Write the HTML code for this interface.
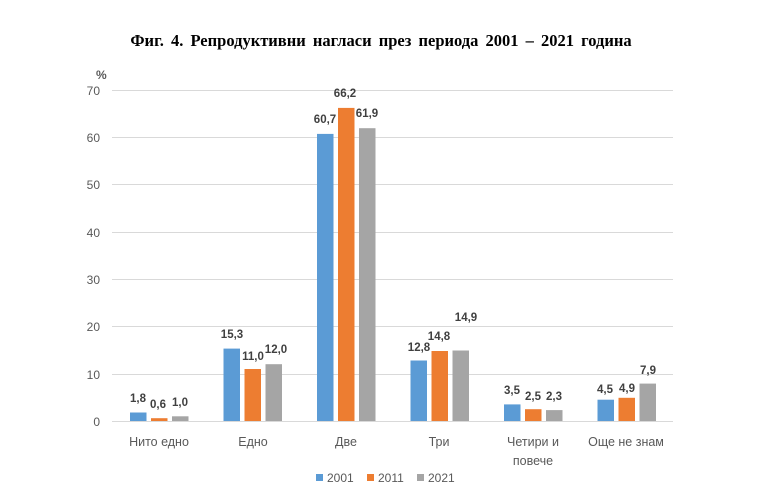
<!DOCTYPE html>
<html><head><meta charset="utf-8"><style>
body{margin:0;background:#fff}
</style></head><body>
<svg width="768" height="498" xmlns="http://www.w3.org/2000/svg" font-family="Liberation Sans, sans-serif">
<rect width="768" height="498" fill="#fff"/>
<text x="381" y="46" text-anchor="middle" font-family="Liberation Serif, serif" font-weight="bold" font-size="16.5" fill="#000" word-spacing="3">Фиг. 4. Репродуктивни нагласи през периода  2001 – 2021 година</text>
<g stroke="#d9d9d9" stroke-width="1">
<line x1="112" x2="673" y1="90.5" y2="90.5"/><line x1="112" x2="673" y1="137.5" y2="137.5"/>
<line x1="112" x2="673" y1="184.5" y2="184.5"/><line x1="112" x2="673" y1="232.5" y2="232.5"/>
<line x1="112" x2="673" y1="279.5" y2="279.5"/><line x1="112" x2="673" y1="326.5" y2="326.5"/>
<line x1="112" x2="673" y1="374.5" y2="374.5"/><line x1="112" x2="673" y1="421.5" y2="421.5"/>
</g>
<g font-size="12" fill="#595959" text-anchor="end">
<text x="100" y="95">70</text><text x="100" y="142">60</text><text x="100" y="189">50</text>
<text x="100" y="237">40</text><text x="100" y="284">30</text><text x="100" y="331">20</text>
<text x="100" y="379">10</text><text x="100" y="426">0</text>
</g>
<text x="96" y="79" font-size="12" font-weight="bold" fill="#595959">%</text>
<g>
<rect x="130" y="412.5" width="16.5" height="8.5" fill="#5b9bd5"/>
<rect x="151" y="418.2" width="16.5" height="2.8" fill="#ed7d31"/>
<rect x="172" y="416.3" width="16.5" height="4.7" fill="#a5a5a5"/>
<rect x="223.5" y="348.6" width="16.5" height="72.4" fill="#5b9bd5"/>
<rect x="244.5" y="369" width="16.5" height="52" fill="#ed7d31"/>
<rect x="265.5" y="364.2" width="16.5" height="56.8" fill="#a5a5a5"/>
<rect x="317" y="133.9" width="16.5" height="287.1" fill="#5b9bd5"/>
<rect x="338" y="107.9" width="16.5" height="313.1" fill="#ed7d31"/>
<rect x="359" y="128.2" width="16.5" height="292.8" fill="#a5a5a5"/>
<rect x="410.5" y="360.5" width="16.5" height="60.5" fill="#5b9bd5"/>
<rect x="431.5" y="351" width="16.5" height="70" fill="#ed7d31"/>
<rect x="452.5" y="350.5" width="16.5" height="70.5" fill="#a5a5a5"/>
<rect x="504" y="404.4" width="16.5" height="16.6" fill="#5b9bd5"/>
<rect x="525" y="409.2" width="16.5" height="11.8" fill="#ed7d31"/>
<rect x="546" y="410.1" width="16.5" height="10.9" fill="#a5a5a5"/>
<rect x="597.5" y="399.7" width="16.5" height="21.3" fill="#5b9bd5"/>
<rect x="618.5" y="397.8" width="16.5" height="23.2" fill="#ed7d31"/>
<rect x="639.5" y="383.6" width="16.5" height="37.4" fill="#a5a5a5"/>
</g>
<g font-size="11.5" font-weight="bold" fill="#404040" text-anchor="middle">
<text x="138" y="402">1,8</text><text x="158" y="408">0,6</text><text x="180" y="406">1,0</text>
<text x="232" y="338">15,3</text><text x="253" y="360">11,0</text><text x="276" y="353">12,0</text>
<text x="325" y="123">60,7</text><text x="345" y="97">66,2</text><text x="367" y="117">61,9</text>
<text x="419" y="351">12,8</text><text x="439" y="340">14,8</text><text x="466" y="321">14,9</text>
<text x="512" y="394">3,5</text><text x="533" y="400">2,5</text><text x="554" y="400">2,3</text>
<text x="605" y="393">4,5</text><text x="627" y="392">4,9</text><text x="648" y="374">7,9</text>
</g>
<g font-size="12.5" fill="#595959" text-anchor="middle">
<text x="159" y="446">Нито едно</text><text x="253" y="446">Едно</text><text x="346" y="446">Две</text>
<text x="439" y="446">Три</text><text x="533" y="446">Четири и</text><text x="533" y="465">повече</text>
<text x="626" y="446">Още не знам</text>
</g>
<g font-size="12" fill="#595959">
<rect x="316" y="474" width="7" height="7" fill="#5b9bd5"/><text x="327" y="482">2001</text>
<rect x="367" y="474" width="7" height="7" fill="#ed7d31"/><text x="378" y="482">2011</text>
<rect x="417" y="474" width="7" height="7" fill="#a5a5a5"/><text x="428" y="482">2021</text>
</g>
</svg>
</body></html>
